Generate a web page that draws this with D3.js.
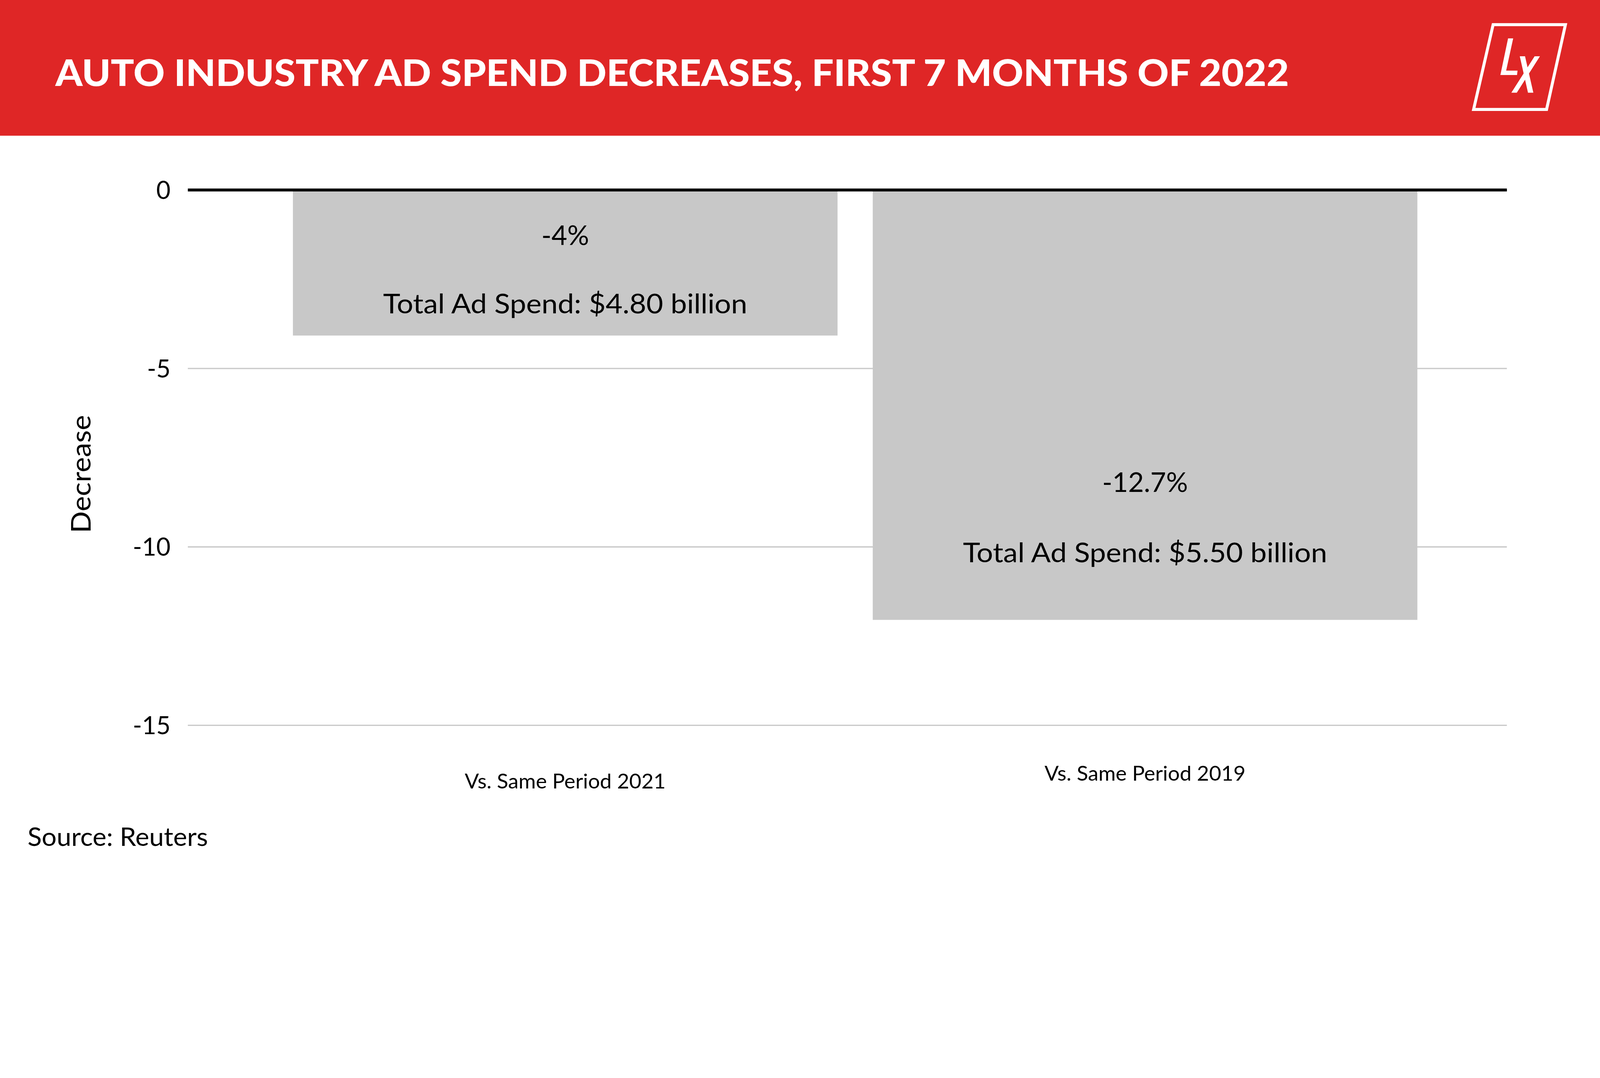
<!DOCTYPE html>
<html>
<head>
<meta charset="utf-8">
<script src="https://cdn.jsdelivr.net/npm/d3@7"></script>
<style>
  html, body { margin: 0; padding: 0; background: #ffffff; overflow: hidden; }
  svg { display: block; width: 100vw; height: 100vh; font-family: Lato, "Open Sans", sans-serif; }
</style>
</head>
<body>
<svg id="chart"></svg>
<script>
// values
const categories = ["Vs. Same Period 2021", "Vs. Same Period 2019"]
const decreases = [-4.08, -12.05]
const pct_labels = ["-4%", "-12.7%"]
const spend_labels = ["Total Ad Spend: $4.80 billion", "Total Ad Spend: $5.50 billion"]
const y_ticks = [0, -5, -10, -15]

const title = "AUTO INDUSTRY AD SPEND DECREASES, FIRST 7 MONTHS OF 2022"
const y_title = "Decrease"
const source = "Source: Reuters"

// layout
const W = 5000
const H = 2759
const header_h = 424
const plot = { left: 587, right: 4709, top: 593.5, bottom: 2265.5 }
const red = "#df2626"
const bar_color = "#c8c8c8"
const grid_color = "#cacaca"

// baselines of the in-bar labels and the category labels
const pct_baseline = [765, 1537]
const spend_baseline = [979, 1757]
const cat_baseline = [2463, 2439]

// viewBox so the drawing fills the window width whatever its pixel ratio,
// pinned to the top-left corner
const svg = d3.select("#chart")
  .attr("viewBox", `0 0 ${W} ${H}`)
  .attr("preserveAspectRatio", "xMinYMin meet")

// squeeze / stretch a text element to a measured width
function fit(sel, w){
  sel.attr("textLength", w).attr("lengthAdjust", "spacingAndGlyphs")
}

// header band
svg.append("rect")
  .attr("x", 0).attr("y", 0)
  .attr("width", W).attr("height", header_h)
  .attr("fill", red)

svg.append("text")
  .attr("x", 173)
  .attr("y", 268)
  .attr("fill", "#fff")
  .attr("font-size", 113)
  .attr("font-weight", 900)
  .text(title)
  .call(fit, 3855)

// LX logo
const logo = svg.append("g").attr("fill", "#fff")
logo.append("path")
  .attr("d", "M4666,77 L4892,77 L4833,342 L4605,342 Z")
  .attr("fill", "none")
  .attr("stroke", "#fff")
  .attr("stroke-width", 9.3)
logo.append("path")
  .attr("d", "M4712.7,120 L4728.7,120 L4706.7,220.7 L4742.3,220.7 L4740.7,234.3 L4688.7,234.3 Z")
logo.append("path")
  .attr("d", "M4749.3,175.7 L4765.7,175.7 L4791.7,289.7 L4775,289.7 Z")
logo.append("path")
  .attr("d", "M4795.7,175.7 L4812.3,175.7 L4740,289.7 L4723,289.7 Z")

// scales
const x = d3.scaleBand()
  .domain(categories)
  .range([plot.left, plot.right])
  .paddingInner(0.0607)
  .paddingOuter(0.1678)
  .align(0.54)

const y = d3.scaleLinear()
  .domain([0, -15])
  .range([plot.top, plot.bottom])

// gridlines and tick labels (plain hyphen, like the reference)
const y_axis = svg.append("g")
  .attr("transform", `translate(${plot.left},0)`)
  .call(d3.axisLeft(y)
    .tickValues(y_ticks)
    .tickSize(-(plot.right - plot.left))
    .tickPadding(54)
    .tickFormat(d => String(d)))

y_axis.select(".domain").remove()
y_axis.selectAll(".tick line")
  .attr("stroke", grid_color)
  .attr("stroke-width", 4)
y_axis.selectAll(".tick text")
  .attr("font-family", "Lato, sans-serif")
  .attr("font-size", 77)
  .attr("fill", "#000")
  .attr("dy", "0.36em")

// bars
svg.append("g")
  .selectAll("rect")
  .data(decreases)
  .join("rect")
  .attr("x", (d, i) => x(categories[i]))
  .attr("y", y(0))
  .attr("width", x.bandwidth())
  .attr("height", d => y(d) - y(0))
  .attr("fill", bar_color)

// zero line sits on top of the bars
svg.append("line")
  .attr("x1", plot.left).attr("x2", plot.right)
  .attr("y1", y(0)).attr("y2", y(0))
  .attr("stroke", "#000")
  .attr("stroke-width", 9)

// labels inside the bars
const labels = svg.append("g")
  .attr("text-anchor", "middle")
  .attr("font-size", 85)
  .attr("fill", "#000")

labels.selectAll(".pct")
  .data(pct_labels)
  .join("text")
  .attr("class", "pct")
  .attr("x", (d, i) => x(categories[i]) + x.bandwidth() / 2)
  .attr("y", (d, i) => pct_baseline[i])
  .text(d => d)

labels.selectAll(".spend")
  .data(spend_labels)
  .join("text")
  .attr("class", "spend")
  .attr("x", (d, i) => x(categories[i]) + x.bandwidth() / 2)
  .attr("y", (d, i) => spend_baseline[i])
  .text(d => d)
  .call(fit, 1138)

// category axis
const x_axis = svg.append("g")
  .attr("transform", `translate(0,${plot.bottom})`)
  .call(d3.axisBottom(x).tickSize(0))

x_axis.select(".domain").remove()
x_axis.selectAll(".tick text")
  .attr("font-family", "Lato, sans-serif")
  .attr("font-size", 63)
  .attr("fill", "#000")
  .attr("dy", 0)
  .attr("y", (d, i) => cat_baseline[i] - plot.bottom)
  .call(fit, 628)

// y title
svg.append("text")
  .attr("transform", `translate(283,1481) rotate(-90)`)
  .attr("text-anchor", "middle")
  .attr("font-size", 85)
  .attr("fill", "#000")
  .text(y_title)
  .call(fit, 369)

// source note
svg.append("text")
  .attr("x", 86)
  .attr("y", 2643)
  .attr("font-size", 81)
  .attr("fill", "#000")
  .text(source)
  .call(fit, 564)
</script>
</body>
</html>
